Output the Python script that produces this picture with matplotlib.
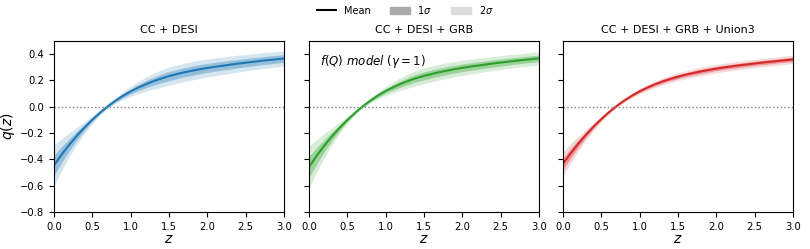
import numpy as np
import matplotlib
matplotlib.use("Agg")
import matplotlib.pyplot as plt
from matplotlib.lines import Line2D
from matplotlib.patches import Patch

z = [0.0, 0.1, 0.2, 0.3, 0.4, 0.5, 0.6, 0.7, 0.8, 0.9, 1.0,
     1.1, 1.2, 1.3, 1.4, 1.5, 1.6, 1.7, 1.8, 1.9, 2.0,
     2.1, 2.2, 2.3, 2.4, 2.5, 2.6, 2.7, 2.8, 2.9, 3.0]

titles = ["CC + DESI", "CC + DESI + GRB", "CC + DESI + GRB + Union3"]
colors = ["#1f77b4", "#2ca02c", "#d62728"]

mean_cc_desi = [-0.445, -0.363, -0.288, -0.219, -0.156, -0.098, -0.045, 0.003, 0.046, 0.084, 0.117,
                0.146, 0.172, 0.195, 0.215, 0.233, 0.248, 0.262, 0.274, 0.285, 0.295,
                0.304, 0.312, 0.320, 0.328, 0.335, 0.342, 0.349, 0.355, 0.361, 0.367]
sig1_cc_desi = [0.077, 0.060, 0.045, 0.032, 0.022, 0.014, 0.009, 0.008, 0.011, 0.015, 0.019,
                0.023, 0.027, 0.030, 0.033, 0.035, 0.035, 0.035, 0.035, 0.035, 0.034,
                0.034, 0.033, 0.033, 0.032, 0.031, 0.031, 0.030, 0.030, 0.029, 0.029]

mean_grb = [-0.458, -0.373, -0.295, -0.224, -0.159, -0.100, -0.046, 0.003, 0.047, 0.086, 0.120,
            0.149, 0.175, 0.198, 0.218, 0.235, 0.249, 0.263, 0.275, 0.286, 0.296,
            0.305, 0.313, 0.321, 0.329, 0.336, 0.343, 0.350, 0.356, 0.362, 0.368]
sig1_grb = [0.080, 0.062, 0.046, 0.032, 0.021, 0.013, 0.008, 0.007, 0.010, 0.014, 0.017,
            0.021, 0.024, 0.027, 0.029, 0.030, 0.030, 0.030, 0.030, 0.029, 0.029,
            0.028, 0.028, 0.027, 0.027, 0.026, 0.026, 0.025, 0.025, 0.025, 0.025]

mean_union3 = [-0.434, -0.354, -0.280, -0.212, -0.150, -0.093, -0.041, 0.006, 0.048, 0.085, 0.118,
               0.146, 0.171, 0.193, 0.212, 0.229, 0.244, 0.257, 0.269, 0.280, 0.290,
               0.299, 0.307, 0.315, 0.322, 0.329, 0.336, 0.342, 0.348, 0.354, 0.360]
sig1_union3 = [0.045, 0.036, 0.028, 0.020, 0.014, 0.009, 0.006, 0.005, 0.006, 0.008, 0.010,
               0.011, 0.012, 0.013, 0.014, 0.015, 0.015, 0.016, 0.016, 0.016, 0.016,
               0.016, 0.016, 0.016, 0.016, 0.016, 0.016, 0.016, 0.016, 0.016, 0.016]

means = [mean_cc_desi, mean_grb, mean_union3]
sigmas = [sig1_cc_desi, sig1_grb, sig1_union3]

fig = plt.figure(figsize=(8.1, 2.49), dpi=100)
lefts = [54/810, 309/810, 563/810]
w = 230/810
b = 1 - 212/249
h = (212-41)/249
axes = []
for i in range(3):
    ax = fig.add_axes([lefts[i], b, w, h])
    axes.append(ax)
    zz = np.array(z)
    m = np.array(means[i])
    s = np.array(sigmas[i])
    ax.fill_between(zz, m - 2*s, m + 2*s, color=colors[i], alpha=0.18, lw=0)
    ax.fill_between(zz, m - s, m + s, color=colors[i], alpha=0.35, lw=0)
    ax.plot(zz, m, color=colors[i], lw=1.5)
    ax.axhline(0, color="gray", ls=":", lw=1)
    ax.set_xlim(0, 3)
    ax.set_ylim(-0.8, 0.5)
    ax.set_yticks([-0.8, -0.6, -0.4, -0.2, 0.0, 0.2, 0.4])
    ax.set_xticks([0, 0.5, 1.0, 1.5, 2.0, 2.5, 3.0])
    ax.tick_params(labelsize=7.2)
    ax.set_title(titles[i], fontsize=8)
    ax.set_xlabel("$z$", fontsize=10, labelpad=0)
    if i == 0:
        ax.set_ylabel("$q(z)$", fontsize=10, labelpad=2)
    else:
        ax.set_yticklabels([])

axes[1].text(0.05, 0.88, r"$f(Q)\ model\ (\gamma = 1)$", transform=axes[1].transAxes,
             fontsize=8.5, va="center")

handles = [Line2D([], [], color="black", lw=1.5),
           Patch(color="#aaaaaa"),
           Patch(color="#dddddd")]
fig.legend(handles, ["Mean", r"1$\sigma$", r"2$\sigma$"], loc="upper center",
           bbox_to_anchor=(0.5, 1.02), ncol=3, frameon=False, fontsize=7)

fig.savefig("out.png", dpi=100)
